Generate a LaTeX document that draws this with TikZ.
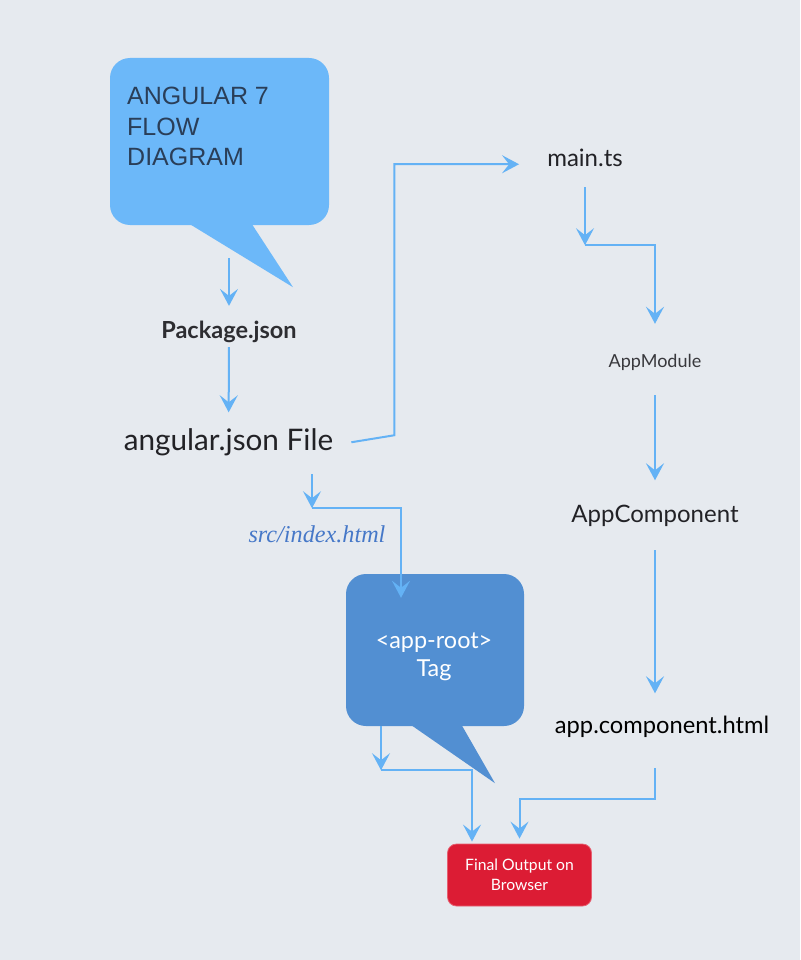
\documentclass[tikz,border=0pt]{standalone}
\usepackage{fontspec}
\setmainfont{Lato}
\newfontfamily\titlefont{Liberation Sans}
\newfontfamily\pathfont{Liberation Serif}
\usetikzlibrary{arrows.meta,calc}

\definecolor{bgcol}{RGB}{230,234,239}
\definecolor{skyblue}{RGB}{108,184,249}
\definecolor{tagblue}{RGB}{82,143,210}
\definecolor{flowcol}{RGB}{100,178,245}
\definecolor{titlecol}{RGB}{42,62,88}
\definecolor{txtcol}{RGB}{34,34,38}
\definecolor{pathcol}{RGB}{70,120,200}
\definecolor{outred}{RGB}{220,28,52}

\tikzset{
  flow/.style={draw=flowcol, line width=2pt, -{Stealth[length=17pt,width=18pt,inset=7pt]}},
  lbl/.style={inner sep=0pt, anchor=base, text height=0.75em, text depth=0.2em, text=txtcol},
  bubble/.style={inner sep=0pt, rounded corners=20pt},
}

\begin{document}
\begin{tikzpicture}[x=1pt,y=-1pt]
  % canvas
  \fill[bgcol] (0,0) rectangle (800,960);
  \useasboundingbox (0,0) rectangle (800,960);

  % speech bubbles
  \node[bubble, fill=skyblue, minimum width=219pt, minimum height=167pt] at (219.5,141.5) (title) {};
  \fill[skyblue] ([shift={(-34.5,-4)}]title.south) -- ++(108,66) -- ([shift={(30.5,-4)}]title.south) -- cycle;
  \node[inner sep=0pt, anchor=north west, align=left, text=titlecol,
        font=\titlefont\fontsize{25}{30.5}\selectfont] at (127,87) (titletxt) {ANGULAR 7\\FLOW\\DIAGRAM};

  \node[bubble, fill=tagblue, minimum width=178pt, minimum height=152pt] at (435,650) (approot) {};
  \fill[tagblue] ([shift={(-28,-4)}]approot.south) -- ++(88,61) -- ([shift={(25,-4)}]approot.south) -- cycle;
  \node[inner sep=0pt, align=center, text=white, font=\fontsize{23.4}{28}\selectfont] at (434,657) (tagtxt) {<app-root>\\Tag};

  \node[inner sep=0pt, rounded corners=9pt, fill=outred, draw=outred!70!white, line width=0.8pt,
        minimum width=144pt, minimum height=62pt, align=center, text=white,
        font=\fontsize{15.7}{20}\selectfont] at (519.5,875) (final) {Final Output on\\Browser};

  % labels
  \node[lbl, font=\bfseries\fontsize{23.5}{28}\selectfont, text=txtcol!95!white] at (229,338) (pkg) {Package.json};
  \node[lbl, font=\fontsize{29.7}{34}\selectfont] at (228.5,450) (angular) {angular.json File};
  \node[lbl, font=\fontsize{24}{28}\selectfont] at (585,167) (maints) {main.ts};
  \node[lbl, font=\fontsize{18}{22}\selectfont, text=txtcol!90!white] at (655,367) (appmod) {AppModule};
  \node[lbl, font=\fontsize{24}{28}\selectfont] at (655,522) (appcomp) {AppComponent};
  \node[lbl, font=\fontsize{23.7}{28}\selectfont, text=black] at (662,733) (apphtml) {app.component.html};
  \node[inner sep=0pt, anchor=base, text=pathcol, font=\pathfont\itshape\fontsize{24.2}{28}\selectfont] at (317,542) (srcpath) {src/index.html};

  % connectors
  \draw[flow, shorten <=33pt] (title.south -| pkg.north) -- ([yshift=24.4pt]pkg.north);
  \draw[flow, shorten <=7pt, shorten >=30pt] (pkg.south) -- (angular.north);
  \draw[flow] ([shift={(18,-5)}]angular.east) -- ++(43,-7) |- ([xshift=-28pt]maints.west);
  \draw[flow] ([yshift=-18pt]maints.south) -- ++(0,58) coordinate (kinkA);
  \draw[flow] (kinkA) -| ([yshift=35.5pt]appmod.north);
  \draw[flow, shorten <=26pt, shorten >=34pt] (appmod.south) -- (appcomp.north);
  \draw[flow, shorten <=26pt, shorten >=32pt] (appcomp.south) -- (apphtml.north -| appcomp.north);
  \draw[flow] ($(apphtml.south -| appcomp.south)+(0,33)$) -- ++(0,31) -| ([yshift=5pt]final.north);
  \draw[flow] ([shift={(83.5,22)}]angular.south) -- ++(0,34) coordinate (kinkB);
  \draw[flow] (kinkB) -| ([shift={(-34,24)}]approot.north);
  \draw[flow] ([xshift=-54pt]approot.south) -- ++(0,44) coordinate (kinkC);
  \draw[flow] (kinkC) -| ([shift={(-47.5,-2)}]final.north);
\end{tikzpicture}
\end{document}
